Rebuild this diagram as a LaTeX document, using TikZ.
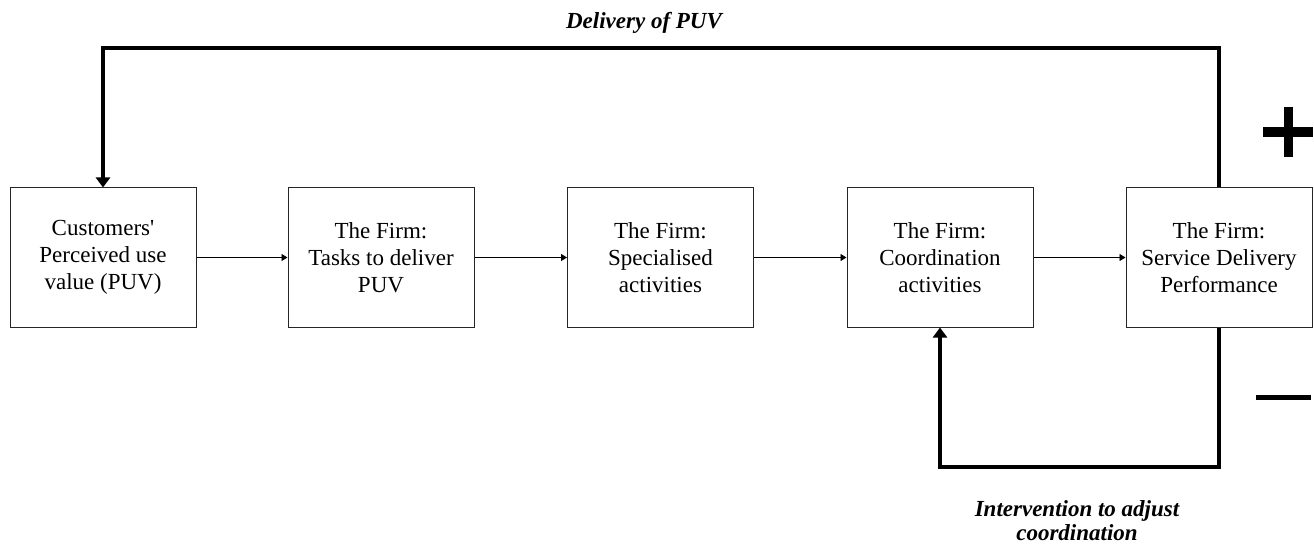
\documentclass[tikz,border=0pt]{standalone}
\usepackage{fontspec}
\setmainfont{Liberation Serif}
\usetikzlibrary{arrows.meta}
\begin{document}
\begin{tikzpicture}[x=1pt,y=-1pt,
  stagebox/.style={draw=black!85,line width=1pt,minimum width=186pt,minimum height=139pt,
    inner sep=0pt,align=center,font=\fontsize{23}{27}\selectfont},
  flow/.style={line width=0.9pt,-{Triangle[length=6pt,width=7pt]}},
  loop/.style={line width=3.5pt,-{Triangle[length=10pt,width=14pt]}},
  looplabel/.style={align=center,font=\fontsize{23}{24}\selectfont\bfseries\itshape}]
\useasboundingbox (0,0) rectangle (1314,545);
% the five stages of the chain
\node[stagebox] (b1) at (103,257.5) {Customers\textquotesingle\\Perceived use\\value (PUV)};
\node[stagebox] (b2) at (381,257.5) {The Firm:\\Tasks to deliver\\PUV};
\node[stagebox] (b3) at (660.5,257.5) {The Firm:\\Specialised\\activities};
\node[stagebox] (b4) at (940,257.5) {The Firm:\\Coordination\\activities};
\node[stagebox] (b5) at (1219,257.5) {The Firm:\\Service Delivery\\Performance};
\draw[flow] (b1) -- (b2);
\draw[flow] (b2) -- (b3);
\draw[flow] (b3) -- (b4);
\draw[flow] (b4) -- (b5);
% positive feedback loop over the top
\coordinate (top) at (0,48);
\draw[loop] (b5.north) |- (b1.north |- top) -- (b1.north);
\node[looplabel] (lblTop) at (644,23) {Delivery of PUV};
% corrective loop underneath
\coordinate (bottom) at (0,467);
\draw[loop] (b5.south) |- (b4.south |- bottom) -- (b4.south);
\node[looplabel] (lblBot) at (1077,521) {Intervention to adjust\\coordination};
% signs
\draw[line width=9.5pt] (1263,132) -- (1313,132);
\draw[line width=9pt] (1288,107) -- (1288,157);
\draw[line width=5pt] (1256,397) -- (1311,397);
\end{tikzpicture}
\end{document}
